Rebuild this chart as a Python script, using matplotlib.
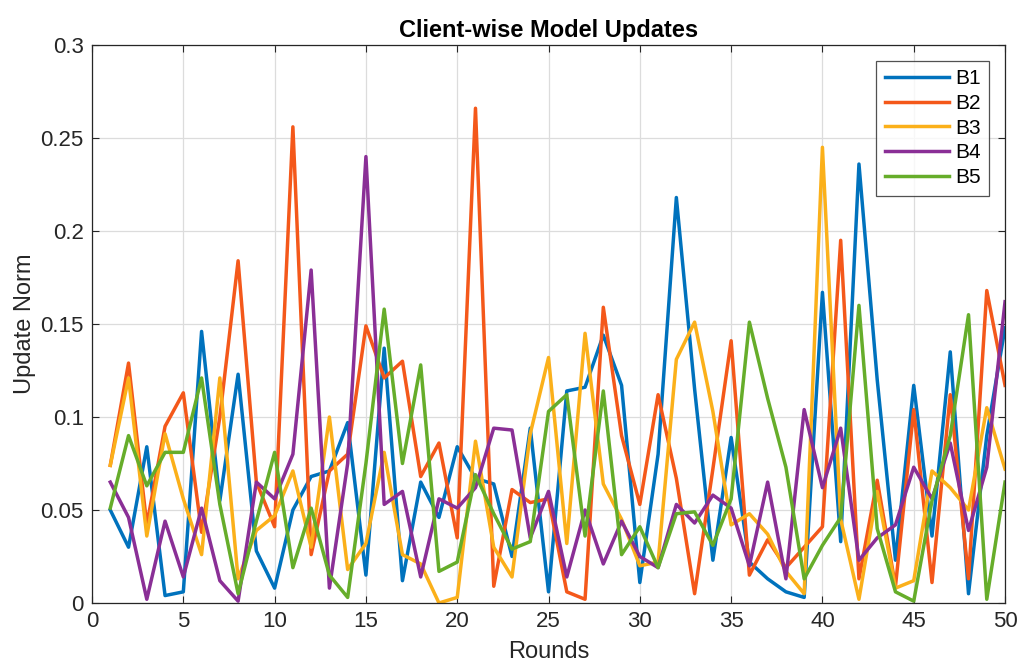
import matplotlib.pyplot as plt
import numpy as np

plt.rcParams['font.family'] = ['Liberation Sans', 'DejaVu Sans']

rounds = np.arange(1, 51)

b1 = [0.050, 0.030, 0.084, 0.004, 0.006, 0.146, 0.055, 0.123, 0.028, 0.008,
      0.050, 0.068, 0.071, 0.097, 0.015, 0.137, 0.012, 0.065, 0.046, 0.084,
      0.067, 0.064, 0.025, 0.094, 0.006, 0.114, 0.116, 0.144, 0.117, 0.011,
      0.080, 0.218, 0.115, 0.023, 0.089, 0.022, 0.013, 0.006, 0.003, 0.167,
      0.033, 0.236, 0.120, 0.023, 0.117, 0.036, 0.135, 0.005, 0.090, 0.148]
b2 = [0.074, 0.129, 0.042, 0.095, 0.113, 0.038, 0.100, 0.184, 0.065, 0.041,
      0.256, 0.026, 0.071, 0.080, 0.149, 0.121, 0.130, 0.068, 0.086, 0.035,
      0.266, 0.009, 0.061, 0.054, 0.056, 0.006, 0.002, 0.159, 0.090, 0.053,
      0.112, 0.067, 0.005, 0.072, 0.141, 0.015, 0.034, 0.019, 0.030, 0.041,
      0.195, 0.013, 0.066, 0.009, 0.104, 0.011, 0.112, 0.013, 0.168, 0.117]
b3 = [0.074, 0.121, 0.036, 0.091, 0.056, 0.026, 0.121, 0.013, 0.039, 0.047,
      0.071, 0.030, 0.100, 0.018, 0.032, 0.081, 0.026, 0.021, 0.000, 0.003,
      0.087, 0.030, 0.014, 0.091, 0.132, 0.032, 0.145, 0.064, 0.045, 0.020,
      0.022, 0.131, 0.151, 0.103, 0.042, 0.048, 0.037, 0.017, 0.005, 0.245,
      0.045, 0.002, 0.060, 0.008, 0.012, 0.071, 0.062, 0.050, 0.105, 0.072]
b4 = [0.065, 0.046, 0.002, 0.044, 0.014, 0.051, 0.012, 0.001, 0.065, 0.056,
      0.080, 0.179, 0.008, 0.075, 0.240, 0.053, 0.060, 0.014, 0.056, 0.051,
      0.062, 0.094, 0.093, 0.035, 0.060, 0.014, 0.050, 0.021, 0.044, 0.025,
      0.019, 0.053, 0.043, 0.058, 0.051, 0.020, 0.065, 0.013, 0.104, 0.062,
      0.094, 0.023, 0.035, 0.042, 0.073, 0.056, 0.086, 0.039, 0.073, 0.162]
b5 = [0.051, 0.090, 0.063, 0.081, 0.081, 0.121, 0.053, 0.005, 0.044, 0.081,
      0.019, 0.051, 0.015, 0.003, 0.075, 0.158, 0.075, 0.128, 0.017, 0.022,
      0.069, 0.048, 0.029, 0.033, 0.103, 0.112, 0.036, 0.114, 0.026, 0.041,
      0.019, 0.048, 0.049, 0.031, 0.056, 0.151, 0.110, 0.073, 0.013, 0.031,
      0.046, 0.160, 0.040, 0.006, 0.001, 0.055, 0.090, 0.155, 0.002, 0.065]

series = [b1, b2, b3, b4, b5]
names = ['B1', 'B2', 'B3', 'B4', 'B5']
colors = ['#0072BD', '#F4581A', '#FBB01A', '#8A2F96', '#66AD2A']

fig = plt.figure(figsize=(10.19, 6.66), dpi=100)
ax = fig.add_axes([0.0903, 0.0946, 0.896, 0.8378])

for vals, name, c in zip(series, names, colors):
    ax.plot(rounds, vals, color=c, lw=2.5, label=name)

ax.set_xlim(0, 50)
ax.set_ylim(0, 0.3)
ax.set_xticks(range(0, 51, 5))
ax.set_yticks([0, 0.05, 0.1, 0.15, 0.2, 0.25, 0.3])
ax.set_yticklabels(['0', '0.05', '0.1', '0.15', '0.2', '0.25', '0.3'])
ax.grid(True, color='#DCDCDC', lw=0.9)
ax.set_axisbelow(True)
ax.tick_params(direction='in', top=True, right=True, length=5,
               labelsize=16, colors='#262626', pad=6)
for s in ax.spines.values():
    s.set_color('#262626')
    s.set_linewidth(0.9)

ax.set_xlabel('Rounds', fontsize=17, color='#262626', labelpad=6)
ax.set_ylabel('Update Norm', fontsize=17, color='#262626', labelpad=3)
ax.set_title('Client-wise Model Updates', fontsize=17, fontweight='bold', pad=6)

leg = ax.legend(loc='upper right', fontsize=15, handlelength=3.1,
                handletextpad=0.3, frameon=True, fancybox=False,
                borderaxespad=0.75, labelspacing=0.28, borderpad=0.4)
leg.get_frame().set_edgecolor('#262626')
leg.get_frame().set_linewidth(0.9)

plt.savefig('out.png', dpi=100)
